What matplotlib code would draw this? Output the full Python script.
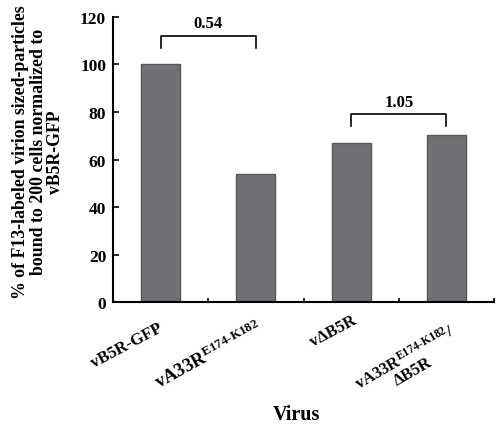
import numpy as np
import matplotlib
matplotlib.use("Agg")
import matplotlib.pyplot as plt

plt.rcParams['font.family'] = 'Liberation Serif'
plt.rcParams['font.weight'] = 'bold'
plt.rcParams['mathtext.fontset'] = 'custom'
plt.rcParams['mathtext.rm'] = 'Liberation Serif:bold'
plt.rcParams['mathtext.bf'] = 'Liberation Serif:bold'
plt.rcParams['mathtext.default'] = 'rm'

# data
viruses = ['vB5R-GFP', r'vA33R$^{\text{E174-K182}}$', 'v\u0394B5R',
           'vA33R$^{\\text{E174-K182}}$/\n\u0394B5R']
values = [100, 54, 67, 70.5]
ratios = ['0.54', '1.05']
ratio_pairs = [(0, 1), (2, 3)]
ratio_heights = [107, 74]

fig = plt.figure(figsize=(4.96, 4.27), dpi=100)
ax = fig.add_axes([0.228, 0.29, 0.768, 0.668])

x = np.arange(len(values))
ax.bar(x, values, width=0.41, color='#707175', edgecolor='#58585c', linewidth=1)

ax.set_xlim(-0.5, 3.5)
ax.set_ylim(0, 120)
ax.set_yticks(np.arange(0, 121, 20))
ax.set_xticks(np.arange(0.5, 3.6, 1))
ax.set_xticklabels([])
ax.tick_params(axis='y', direction='in', length=4, width=1.2, labelsize=12.5, pad=5)
ax.tick_params(axis='x', direction='in', length=3, width=1.2)
for s in ['top', 'right']:
    ax.spines[s].set_visible(False)
for s in ['left', 'bottom']:
    ax.spines[s].set_linewidth(1.5)

# rotated category labels, placed by hand like the original
trans = ax.get_xaxis_transform()
label_pos = [(-0.03, -0.06), (1.0, -0.05), (2.0, -0.035), (3.02, -0.065)]
label_rot = [28, 29, 28, 30]
label_size = [12, 13.5, 12, 12]
for (lx, ly), rot, fs, name in zip(label_pos, label_rot, label_size, viruses):
    ax.text(lx, ly, name, transform=trans, rotation=rot, ha='right', va='top',
            rotation_mode='anchor', fontsize=fs, fontweight='bold',
            multialignment='center', linespacing=1.0)

# ratio brackets
for (a, b), h, r in zip(ratio_pairs, ratio_heights, ratios):
    ax.plot([a, a, b, b], [h, h + 5, h + 5, h], color='black', lw=1.2, clip_on=False)
    ax.text((a + b) / 2, h + 7, r, ha='center', va='bottom', fontsize=12,
            fontweight='bold')

ax.set_ylabel('% of F13-labeled virion sized-particles\nbound to 200 cells normalized to\nvB5R-GFP',
              fontsize=12.8, fontweight='bold', linespacing=1.05)
ax.yaxis.set_label_coords(-0.128, 0.53)
fig.text(0.597, 0.028, 'Virus', ha='center', va='center', fontsize=14.5, fontweight='bold')

fig.savefig('out.png', dpi=100)
